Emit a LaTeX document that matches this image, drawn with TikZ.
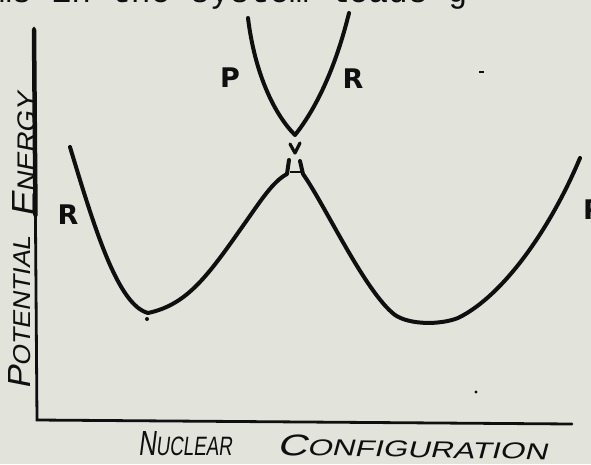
\documentclass[tikz,border=0pt]{standalone}
\usepackage{fontspec}
\newfontfamily\hand[FakeSlant=0.18]{Liberation Sans}
\newfontfamily\handup{DejaVu Sans}
\newfontfamily\typed{Liberation Mono}
\definecolor{paper}{RGB}{226, 227, 219}
\definecolor{ink}{RGB}{15, 15, 15}
\newcommand{\smc}[1]{{\fontsize{16}{16}\selectfont #1}}
\tikzset{
  curve/.style={ink, line width=4pt, line cap=round, line join=round},
  axisline/.style={ink, line width=2.8pt, line cap=round, line join=miter},
  letter/.style={ink, font=\handup\bfseries\fontsize{27}{27}\selectfont, inner sep=0pt},
  axislabel/.style={ink, font=\hand\fontsize{21}{21}\selectfont, inner sep=0pt}
}

\begin{document}
\begin{tikzpicture}[x=1pt, y=-1pt]
        \fill[paper] (0,0) rectangle (591,464);
        \useasboundingbox (0,0) rectangle (591,464);

        % cut text line of the page above
        \node[ink, anchor=base west, inner sep=0pt, font=\typed\fontsize{33}{33}\selectfont] (pagetext) at (-8,2) {ms in the system leads g};

        % axes
        \draw[axisline] (34,28) -- (37,420) -- (572,424);
        \draw[ink, line width=4.5pt, line cap=round] (34,30) -- (35.5,215);

        % lower curve (R on the left, P on the right)
        \draw[curve] (70,147) .. controls (95,230) and (118,305) .. (148,313)
                     .. controls (185,305) and (205,280) .. (240,230)
                     .. controls (260,202) and (272,182) .. (287,174) -- (289,160);
        \draw[curve] (300,161) -- (303,174)
                     .. controls (325,205) and (365,292) .. (395,315)
                     .. controls (410,325) and (440,325) .. (458,318)
                     .. controls (505,295) and (552,225) .. (580,158);
        \draw[ink, line width=2pt] (290,172) -- (301,172);

        % upper curve
        \draw[curve] (248,18) .. controls (255,75) and (275,115) .. (295,135)
                     .. controls (315,110) and (335,70) .. (349,13);
        \draw[curve, line width=3.2pt] (290,144) -- (295,153) -- (300,143);

        % specks
        \fill[ink] (147,319) circle (2pt);
        \fill[ink] (476,392) circle (1.6pt);
        \draw[ink, line width=1.6pt] (479,72) -- (484,72);

        % labels
        \node[letter] (pleft) at (230,78) {P};
        \node[letter] (rtop) at (353,79) {R};
        \node[letter] (rleft) at (68,215) {R};
        \node[letter, anchor=west] (pright) at (583,210) {P};

        \node[axislabel, rotate=90] (yword1) at (20,313) {\resizebox{153pt}{22pt}{P\smc{OTENTIAL}}};
        \node[axislabel, rotate=90] (yword2) at (24,155) {\resizebox{124pt}{23pt}{E\smc{NERGY}}};
        \node[axislabel] (xword1) at (185,444) {\resizebox{94pt}{24pt}{N\smc{UCLEAR}}};
        \node[axislabel, rotate=-1] (xword2) at (412,447) {\resizebox{270pt}{21pt}{C\smc{ONFIGURATION}}};
      \end{tikzpicture}
\end{document}
